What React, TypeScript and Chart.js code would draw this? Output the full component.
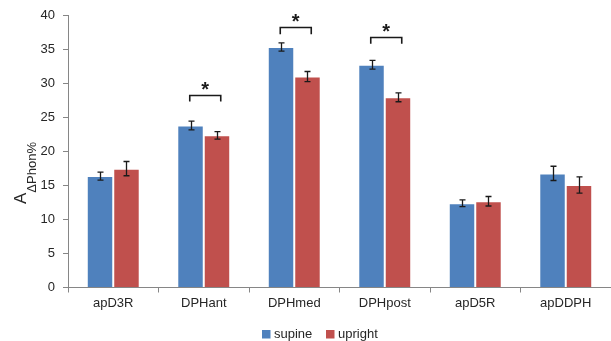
import React, { useEffect, useRef } from 'react';
import { Chart, registerables } from 'chart.js';
Chart.register(...registerables);

const categories = ['apD3R', 'DPHant', 'DPHmed', 'DPHpost', 'apD5R', 'apDDPH'];
const supine = [16.4, 23.85, 35.4, 32.8, 12.4, 16.8];
const upright = [17.5, 22.4, 31.05, 28.0, 12.7, 15.1];
const supineErr = [0.6, 0.65, 0.6, 0.65, 0.5, 1.05];
const uprightErr = [1.05, 0.55, 0.75, 0.65, 0.7, 1.2];
const sigCategories = ['DPHant', 'DPHmed', 'DPHpost'];
const sigBracketTop = [28.4, 38.3, 36.9];
const seriesNames = ['supine', 'upright'];

const BLUE = '#4F81BD';
const RED = '#C0504D';
const AXIS = '#868686';
const TEXT = '#262626';
const FONT = '"Liberation Sans", Arial, sans-serif';

export default function App() {
  const ref = useRef<HTMLCanvasElement>(null);
  useEffect(() => {
    document.body.style.margin = '0';
    const errs = [supineErr, uprightErr];
    const overlay = {
      id: 'overlay',
      afterDatasetsDraw(chart: any) {
        const ctx = chart.ctx;
        const y = chart.scales.y;
        const x = chart.scales.x;
        ctx.save();
        // error bars
        ctx.strokeStyle = '#1a1a1a';
        ctx.lineWidth = 1.3;
        for (let d = 0; d < 2; d++) {
          const meta = chart.getDatasetMeta(d);
          const vals = chart.data.datasets[d].data as number[];
          meta.data.forEach((el: any, i: number) => {
            const cx = Math.round(el.x) + 0.5;
            const top = y.getPixelForValue(vals[i] + errs[d][i]);
            const bot = y.getPixelForValue(vals[i] - errs[d][i]);
            ctx.beginPath();
            ctx.moveTo(cx, top); ctx.lineTo(cx, bot);
            ctx.moveTo(cx - 3, top); ctx.lineTo(cx + 3, top);
            ctx.moveTo(cx - 3, bot); ctx.lineTo(cx + 3, bot);
            ctx.stroke();
          });
        }
        // significance brackets
        ctx.lineWidth = 1.6;
        ctx.strokeStyle = '#1a1a1a';
        ctx.fillStyle = '#1a1a1a';
        sigCategories.forEach((c, k) => {
          const i = categories.indexOf(c);
          const cx = x.getPixelForValue(i);
          const l = cx - 14, r = cx + 17;
          const t = Math.round(y.getPixelForValue(sigBracketTop[k])) + 0.5;
          const b = y.getPixelForValue(sigBracketTop[k] - 1);
          ctx.beginPath();
          ctx.moveTo(l, b); ctx.lineTo(l, t); ctx.lineTo(r, t); ctx.lineTo(r, b);
          ctx.stroke();
          ctx.font = 'bold 20px ' + FONT;
          ctx.textAlign = 'center';
          ctx.textBaseline = 'alphabetic';
          ctx.fillText('*', (l + r) / 2, t);
        });
        ctx.restore();
      },
      afterDraw(chart: any) {
        const ctx = chart.ctx;
        ctx.save();
        // y axis title with subscript
        ctx.translate(25.7, 204);
        ctx.rotate(-Math.PI / 2);
        ctx.fillStyle = TEXT;
        ctx.textAlign = 'left';
        ctx.textBaseline = 'alphabetic';
        ctx.font = '17px ' + FONT;
        ctx.fillText('A', 0, 0);
        const w = ctx.measureText('A').width;
        ctx.font = '13px ' + FONT;
        ctx.fillText('ΔPhon%', w, 10.5);
        ctx.restore();
        // legend
        ctx.save();
        ctx.font = '13px ' + FONT;
        ctx.textBaseline = 'middle';
        ctx.textAlign = 'left';
        const colors = [BLUE, RED];
        const xs = [262, 326];
        seriesNames.forEach((n, i) => {
          ctx.fillStyle = colors[i];
          ctx.fillRect(xs[i], 330, 8.5, 8.5);
          ctx.fillStyle = TEXT;
          ctx.fillText(n, xs[i] + 12, 334.5);
        });
        ctx.restore();
      },
    };
    const chart = new Chart(ref.current as HTMLCanvasElement, {
      type: 'bar',
      data: {
        labels: categories,
        datasets: [
          { label: seriesNames[0], data: supine, backgroundColor: BLUE, borderColor: 'rgba(255,255,255,0.45)', borderWidth: 1 },
          { label: seriesNames[1], data: upright, backgroundColor: RED, borderColor: 'rgba(255,255,255,0.45)', borderWidth: 1 },
        ],
      },
      options: {
        responsive: false,
        animation: false,
        layout: { padding: { top: 15.5, left: 0, right: 0, bottom: 0 } },
        plugins: { legend: { display: false }, tooltip: { enabled: false } },
        datasets: { bar: { categoryPercentage: 0.585, barPercentage: 1 } },
        scales: {
          x: {
            grid: { offset: true, drawOnChartArea: false, tickLength: 5, color: AXIS },
            border: { color: AXIS },
            ticks: { font: { family: FONT, size: 13 }, color: TEXT, padding: 3 },
            afterFit(s: any) { s.height = 53.5; },
          },
          y: {
            min: 0, max: 40,
            grid: { drawOnChartArea: false, tickLength: 5, color: AXIS },
            border: { color: AXIS },
            ticks: { stepSize: 5, font: { family: FONT, size: 13 }, color: TEXT, padding: 8 },
            afterFit(s: any) { s.width = 68; },
          },
        },
      },
      plugins: [overlay],
    } as any);
    return () => chart.destroy();
  }, []);
  return <canvas ref={ref} width={611} height={341} style={{ display: 'block' }} />;
}
